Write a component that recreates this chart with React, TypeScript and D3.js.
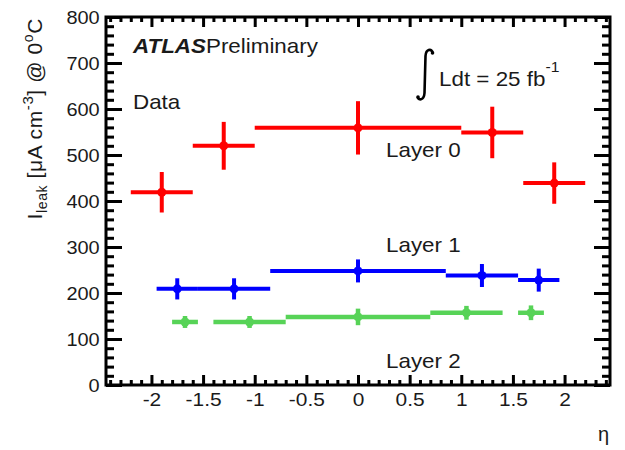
import { useEffect, useRef } from 'react'
import * as d3 from 'd3'

// eta bins, values and errors
const layer0Lo = [-2.2, -1.6, -1.0, 1.0, 1.6]
const layer0Hi = [-1.6, -1.0, 1.0, 1.6, 2.2]
const layer0Val = [419, 520, 559, 549, 439]
const layer0Err = [44, 52, 58, 56, 45]

const layer1Lo = [-1.95, -1.55, -0.85, 0.85, 1.55]
const layer1Hi = [-1.55, -0.85, 0.85, 1.55, 1.95]
const layer1Val = [209, 209, 248, 238, 228]
const layer1Err = [23, 23, 25, 25, 25]

const layer2Lo = [-1.8, -1.4, -0.7, 0.7, 1.55]
const layer2Hi = [-1.55, -0.7, 0.7, 1.4, 1.8]
const layer2Val = [137, 137, 148, 157, 157]
const layer2Err = [13, 13, 18, 15, 16]

const xMajor = [-2, -1.5, -1, -0.5, 0, 0.5, 1, 1.5, 2]
const xTickLabels = ['-2', '-1.5', '-1', '-0.5', '0', '0.5', '1', '1.5', '2']
const yMajor = [0, 100, 200, 300, 400, 500, 600, 700, 800]
const yTickLabels = ['0', '100', '200', '300', '400', '500', '600', '700', '800']

const FONT = '"Liberation Sans", Arial, Helvetica, sans-serif'

export default function App() {
  const svgRef = useRef<SVGSVGElement | null>(null)

  useEffect(() => {
    if (!svgRef.current) return
    const width = 625
    const height = 450
    const frame = { left: 106, right: 610, top: 17, bottom: 385 }

    const svg = d3.select(svgRef.current)
    svg.selectAll('*').remove()
    svg.attr('width', width).attr('height', height)

    const x = d3.scaleLinear().domain([-2.44, 2.44]).range([frame.left, frame.right])
    const y = d3.scaleLinear().domain([0, 800]).range([frame.bottom, frame.top])

    const xMinor = d3.range(-24, 25).map(d => d / 10).filter(d => Math.abs(d * 2 - Math.round(d * 2)) > 1e-6)
    const yMinor = d3.range(0, 801, 20).filter(d => d % 100 !== 0)

    const styleAxis = (g: any) => {
      g.select('.domain').remove()
      g.selectAll('line').attr('stroke', '#000').attr('stroke-width', 3)
      g.attr('font-family', FONT).attr('font-size', 19)
      g.selectAll('text').attr('fill', '#1a1a1a')
    }

    // bottom
    svg.append('g')
      .attr('transform', `translate(0,${frame.bottom})`)
      .call(d3.axisBottom(x).tickValues(xMajor).tickSizeInner(-10).tickSizeOuter(0).tickPadding(8)
        .tickFormat((_d, i) => xTickLabels[i]))
      .call(styleAxis)
      .selectAll('text').attr('transform', 'scale(1.1,1)')
    svg.append('g')
      .attr('transform', `translate(0,${frame.bottom})`)
      .call(d3.axisBottom(x).tickValues(xMinor).tickSizeInner(-5).tickSizeOuter(0).tickFormat(() => ''))
      .call(styleAxis)
    // top
    svg.append('g')
      .attr('transform', `translate(0,${frame.top})`)
      .call(d3.axisTop(x).tickValues(xMajor).tickSizeInner(-10).tickSizeOuter(0).tickFormat(() => ''))
      .call(styleAxis)
    svg.append('g')
      .attr('transform', `translate(0,${frame.top})`)
      .call(d3.axisTop(x).tickValues(xMinor).tickSizeInner(-5).tickSizeOuter(0).tickFormat(() => ''))
      .call(styleAxis)
    // left
    svg.append('g')
      .attr('transform', `translate(${frame.left},0)`)
      .call(d3.axisLeft(y).tickValues(yMajor).tickSizeInner(-16).tickSizeOuter(0).tickPadding(6)
        .tickFormat((_d, i) => yTickLabels[i]))
      .call(styleAxis)
      .selectAll('text').attr('transform', 'scale(1.05,1)')
    svg.append('g')
      .attr('transform', `translate(${frame.left},0)`)
      .call(d3.axisLeft(y).tickValues(yMinor).tickSizeInner(-8).tickSizeOuter(0).tickFormat(() => ''))
      .call(styleAxis)
    // right
    svg.append('g')
      .attr('transform', `translate(${frame.right},0)`)
      .call(d3.axisRight(y).tickValues(yMajor).tickSizeInner(-16).tickSizeOuter(0).tickFormat(() => ''))
      .call(styleAxis)
    svg.append('g')
      .attr('transform', `translate(${frame.right},0)`)
      .call(d3.axisRight(y).tickValues(yMinor).tickSizeInner(-8).tickSizeOuter(0).tickFormat(() => ''))
      .call(styleAxis)

    // frame
    svg.append('rect')
      .attr('x', frame.left).attr('y', frame.top)
      .attr('width', frame.right - frame.left).attr('height', frame.bottom - frame.top)
      .attr('fill', 'none').attr('stroke', '#000').attr('stroke-width', 3)

    // data
    const series = [
      { lo: layer0Lo, hi: layer0Hi, val: layer0Val, err: layer0Err, color: '#ff0000', lw: 4 },
      { lo: layer1Lo, hi: layer1Hi, val: layer1Val, err: layer1Err, color: '#0000ff', lw: 4 },
      { lo: layer2Lo, hi: layer2Hi, val: layer2Val, err: layer2Err, color: '#57d357', lw: 4.5 },
    ]

    series.forEach(s => {
      const pts = s.val.map((v, i) => ({ lo: s.lo[i], hi: s.hi[i], mid: (s.lo[i] + s.hi[i]) / 2, v, e: s.err[i] }))
      const g = svg.append('g')
      g.selectAll('.hbar').data(pts).join('line')
        .attr('x1', d => x(d.lo)).attr('x2', d => x(d.hi))
        .attr('y1', d => y(d.v)).attr('y2', d => y(d.v))
        .attr('stroke', s.color).attr('stroke-width', s.lw)
      g.selectAll('.vbar').data(pts).join('line')
        .attr('x1', d => x(d.mid)).attr('x2', d => x(d.mid))
        .attr('y1', d => y(d.v - d.e)).attr('y2', d => y(d.v + d.e))
        .attr('stroke', s.color).attr('stroke-width', s.lw)
      g.selectAll('circle').data(pts).join('circle')
        .attr('cx', d => x(d.mid)).attr('cy', d => y(d.v))
        .attr('r', 4.5).attr('fill', s.color)
    })

    // annotations
    const addText = (tx: number, ty: number, size: number, sx = 1.12) =>
      svg.append('text')
        .attr('transform', `translate(${tx},${ty}) scale(${sx},1)`)
        .attr('font-family', FONT).attr('font-size', size).attr('fill', '#1a1a1a')

    const atlas = addText(133, 53, 20)
    atlas.append('tspan').attr('font-weight', 'bold').attr('font-style', 'italic').text('ATLAS')
    atlas.append('tspan').text('Preliminary')

    addText(133, 109, 20).text('Data')
    addText(386, 157, 20).text('Layer 0')
    addText(386, 252, 20).text('Layer 1')
    addText(386, 368, 20).text('Layer 2')

    const lumi = addText(439, 86, 20)
    lumi.append('tspan').text('Ldt = 25 fb')
    lumi.append('tspan').attr('dy', -14).attr('font-size', 14).text('-1')

    // integral sign
    svg.append('path')
      .attr('d', 'M433,53 C431,48 426,49 425.5,56 L424.5,93 C424,100 419,101 417.5,97')
      .attr('fill', 'none').attr('stroke', '#000').attr('stroke-width', 2.6)
    svg.append('circle').attr('cx', 432.5).attr('cy', 53).attr('r', 1.8).attr('fill', '#000')
    svg.append('circle').attr('cx', 418).attr('cy', 97).attr('r', 1.8).attr('fill', '#000')

    addText(609, 441, 20, 1).attr('text-anchor', 'end').text('η')

    // y axis title
    const yt = svg.append('text')
      .attr('transform', 'translate(42,18) rotate(-90)')
      .attr('text-anchor', 'end')
      .attr('letter-spacing', 0.6)
      .attr('font-family', FONT).attr('font-size', 21).attr('fill', '#1a1a1a')
    yt.append('tspan').text('I')
    yt.append('tspan').attr('font-size', 14).attr('dy', 5).text('leak')
    yt.append('tspan').attr('dy', -5).text(' [μA cm')
    yt.append('tspan').attr('font-size', 15).attr('dy', -9).text('-3')
    yt.append('tspan').attr('dy', 9).text('] @ 0')
    yt.append('tspan').attr('font-size', 14).attr('dy', -9).text('o')
    yt.append('tspan').attr('dy', 9).text('C')
  }, [])

  return (
    <div style={{ position: 'absolute', left: 0, top: 0, width: 625, height: 450, background: '#fff' }}>
      <svg ref={svgRef} width={625} height={450} style={{ display: 'block' }}></svg>
    </div>
  )
}
